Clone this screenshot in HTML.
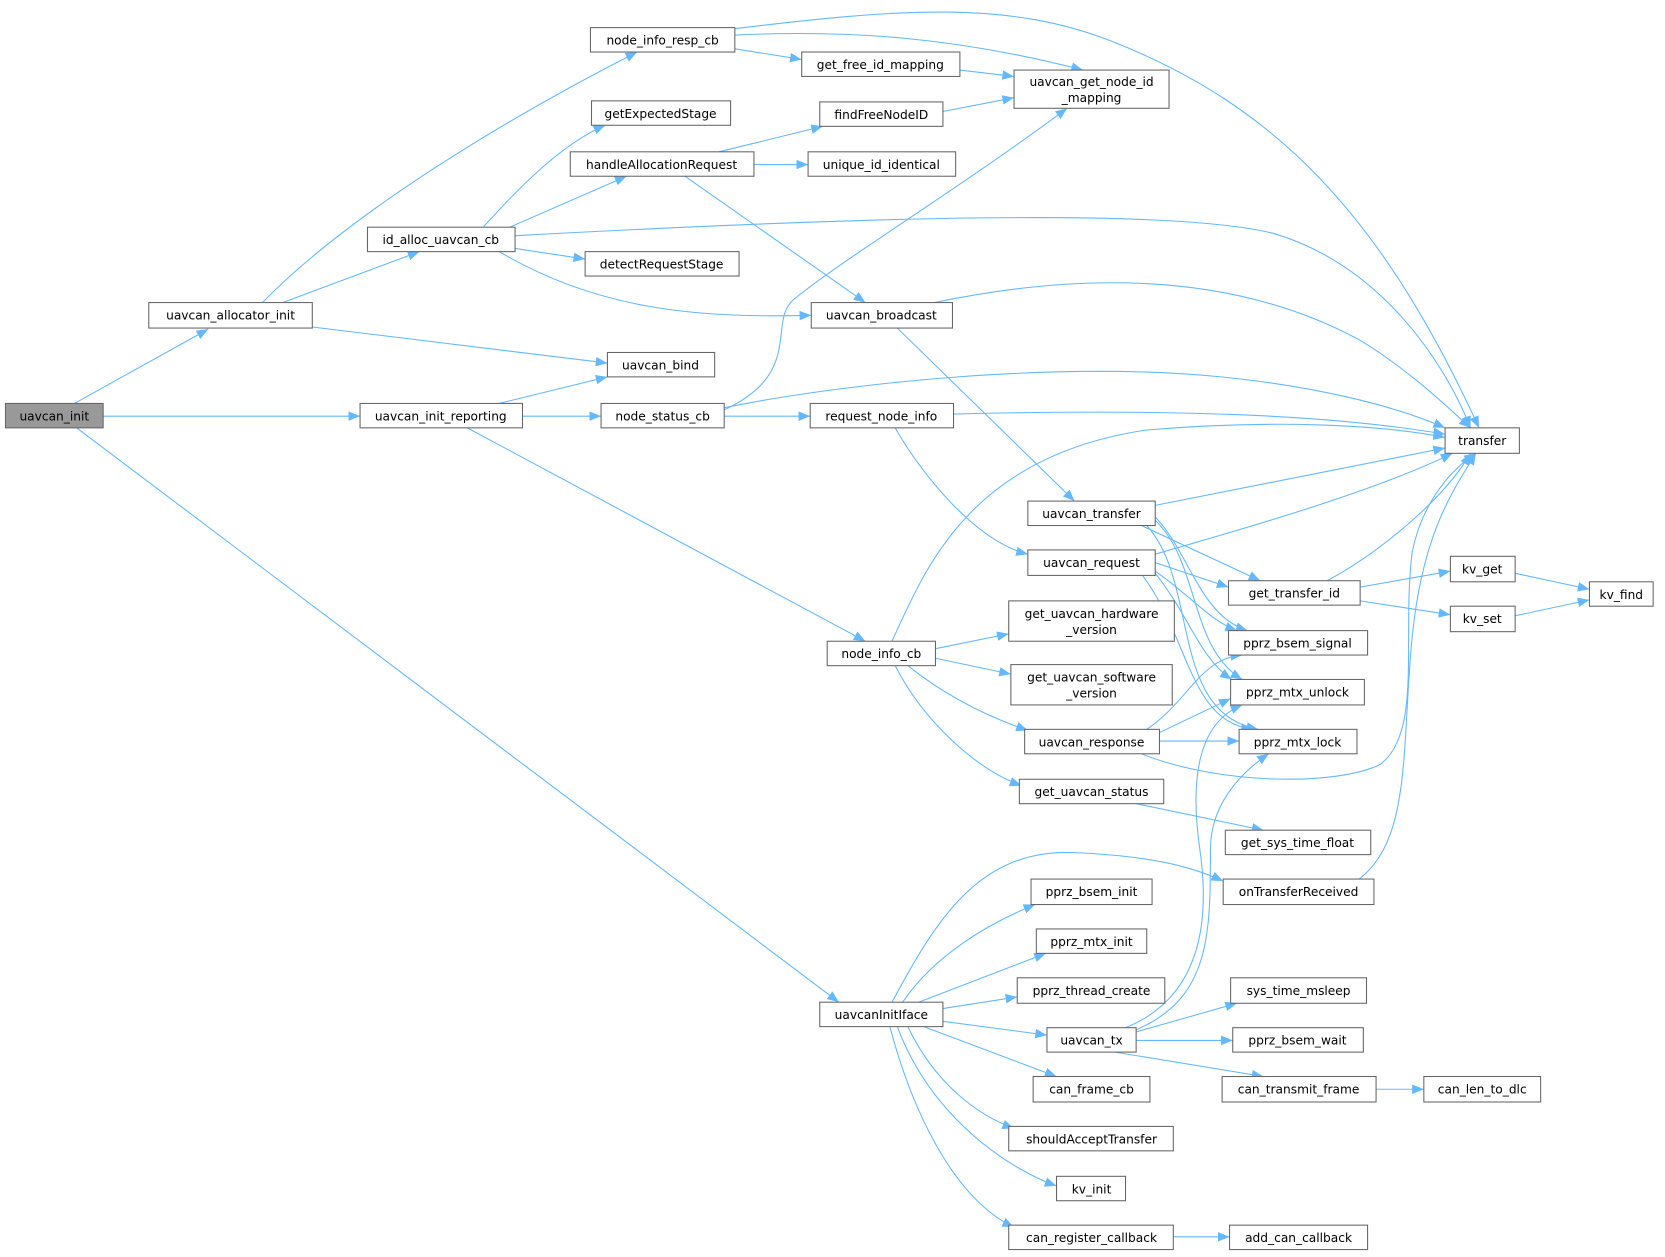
<!DOCTYPE html>
<html><head><meta charset="utf-8"><style>
html,body{margin:0;padding:0;background:#fff;}
svg{display:block;}
text{font-family:"DejaVu Sans","Liberation Sans",sans-serif;font-size:11.5px;fill:#000;}
.n{fill:#fff;stroke:#666;stroke-width:1;}
.e{fill:none;stroke:#63b8ff;stroke-width:1;marker-end:url(#a);}
</style></head><body>
<svg width="1665" height="1257" viewBox="0 0 1568 1184" xmlns="http://www.w3.org/2000/svg">
<defs><marker id="a" markerUnits="userSpaceOnUse" markerWidth="12" markerHeight="10" refX="11" refY="4.5" orient="auto"><path d="M0,0 L11,4.5 L0,9 z" fill="#63b8ff"/></marker></defs>
<g>
<path class="e" d="M70,380 L196,310"/>
<path class="e" d="M97,392 L339,392"/>
<path class="e" d="M72,403 L790,944"/>
<path class="e" d="M247,285 C330,200 480,110 600,49"/>
<path class="e" d="M266,285 L395,237"/>
<path class="e" d="M294,308 L572,342"/>
<path class="e" d="M455,214 C490,175 530,135 570,118"/>
<path class="e" d="M480,214 L590,166"/>
<path class="e" d="M485,222 C800,205 1100,195 1200,220 C1300,250 1360,340 1385,403"/>
<path class="e" d="M485,234 L551,244"/>
<path class="e" d="M470,237 C560,290 650,300 764,297"/>
<path class="e" d="M692,27 C850,8 950,0 1050,40 C1200,100 1300,200 1393,403"/>
<path class="e" d="M692,33 C800,28 900,35 1020,66"/>
<path class="e" d="M692,46 L755,56"/>
<path class="e" d="M904,66 L955,72"/>
<path class="e" d="M888,105 L955,92"/>
<path class="e" d="M677,143 L775,119"/>
<path class="e" d="M710,155 L761,155"/>
<path class="e" d="M645,166 L815,285"/>
<path class="e" d="M880,285 C1000,260 1150,250 1280,320 C1330,350 1370,390 1385,403"/>
<path class="e" d="M845,309 L1012,472"/>
<path class="e" d="M470,380 L572,355"/>
<path class="e" d="M492,392 L566,392"/>
<path class="e" d="M440,403 L815,604"/>
<path class="e" d="M682,386 C760,350 720,300 750,280 C800,240 900,180 1005,102"/>
<path class="e" d="M682,384 C800,360 1000,340 1150,355 C1250,365 1320,385 1361,403"/>
<path class="e" d="M682,392 L763,392"/>
<path class="e" d="M898,390 C1100,385 1250,390 1361,409"/>
<path class="e" d="M843,403 C870,450 920,510 968,522"/>
<path class="e" d="M840,604 C870,540 910,430 1080,405 C1200,395 1300,400 1361,412"/>
<path class="e" d="M881,611 L950,597"/>
<path class="e" d="M881,620 L952,635"/>
<path class="e" d="M855,627 C890,655 930,675 968,688"/>
<path class="e" d="M843,627 C870,680 920,725 962,740"/>
<path class="e" d="M1088,476 L1361,422"/>
<path class="e" d="M1075,495 L1187,547"/>
<path class="e" d="M1088,487 C1120,520 1130,580 1175,594"/>
<path class="e" d="M1088,490 C1130,530 1120,610 1170,640"/>
<path class="e" d="M1080,495 C1130,550 1100,670 1185,687"/>
<path class="e" d="M1088,522 C1200,490 1300,460 1368,427"/>
<path class="e" d="M1088,530 L1157,553"/>
<path class="e" d="M1088,538 C1120,560 1140,585 1165,594"/>
<path class="e" d="M1088,540 C1120,580 1130,620 1160,640"/>
<path class="e" d="M1076,542 C1120,600 1120,680 1180,687"/>
<path class="e" d="M1250,547 C1300,520 1360,470 1385,427"/>
<path class="e" d="M1281,553 L1366,538"/>
<path class="e" d="M1281,566 L1366,579"/>
<path class="e" d="M1427,540 L1497,555"/>
<path class="e" d="M1427,580 L1497,565"/>
<path class="e" d="M1080,687 C1120,660 1130,620 1170,617"/>
<path class="e" d="M1092,690 L1159,658"/>
<path class="e" d="M1092,698 L1167,698"/>
<path class="e" d="M1075,710 C1150,740 1260,740 1300,720 C1340,690 1320,600 1330,520 C1340,470 1370,440 1390,427"/>
<path class="e" d="M1070,757 L1190,782"/>
<path class="e" d="M1280,828 C1330,790 1320,700 1330,600 C1340,500 1370,460 1390,427"/>
<path class="e" d="M840,944 C880,870 920,800 1010,803 C1080,806 1120,815 1152,830"/>
<path class="e" d="M850,944 C880,900 930,870 975,852"/>
<path class="e" d="M865,944 L985,898"/>
<path class="e" d="M888,950 L958,939"/>
<path class="e" d="M888,962 L986,975"/>
<path class="e" d="M870,967 L995,1014"/>
<path class="e" d="M855,967 C880,1020 920,1050 955,1063"/>
<path class="e" d="M845,967 C880,1060 960,1105 995,1117"/>
<path class="e" d="M838,967 C860,1050 900,1130 955,1156"/>
<path class="e" d="M1070,972 L1165,945"/>
<path class="e" d="M1070,980 L1161,980"/>
<path class="e" d="M1050,991 L1190,1014"/>
<path class="e" d="M1060,968 C1130,940 1140,870 1130,800 C1120,730 1130,680 1170,664"/>
<path class="e" d="M1070,970 C1140,940 1140,880 1140,800 C1140,750 1180,720 1195,710"/>
<path class="e" d="M1296,1026 L1341,1026"/>
<path class="e" d="M1105,1165 L1158,1165"/>
</g>
<g text-anchor="middle">
<rect x="5" y="380" width="92" height="23" fill="#999" stroke="#666"/><text x="51" y="396">uavcan_init</text>
<rect class="n" x="140" y="285" width="154" height="24"/><text x="217" y="301">uavcan_allocator_init</text>
<rect class="n" x="339" y="380" width="153" height="23"/><text x="415" y="396">uavcan_init_reporting</text>
<rect class="n" x="772" y="944" width="116" height="23"/><text x="830" y="960">uavcanInitIface</text>
<rect class="n" x="556" y="26" width="136" height="23"/><text x="624" y="42">node_info_resp_cb</text>
<rect class="n" x="557" y="95" width="131" height="23"/><text x="622" y="111">getExpectedStage</text>
<rect class="n" x="537" y="143" width="173" height="23"/><text x="623" y="159">handleAllocationRequest</text>
<rect class="n" x="346" y="214" width="139" height="23"/><text x="415" y="230">id_alloc_uavcan_cb</text>
<rect class="n" x="551" y="237" width="145" height="23"/><text x="623" y="253">detectRequestStage</text>
<rect class="n" x="572" y="332" width="101" height="23"/><text x="622" y="348">uavcan_bind</text>
<rect class="n" x="566" y="380" width="116" height="23"/><text x="624" y="396">node_status_cb</text>
<rect class="n" x="755" y="49" width="149" height="23"/><text x="829" y="65">get_free_id_mapping</text>
<rect class="n" x="955" y="66" width="146" height="36"/><text x="1028" y="81">uavcan_get_node_id</text><text x="1028" y="96">_mapping</text>
<rect class="n" x="772" y="96" width="116" height="23"/><text x="830" y="112">findFreeNodeID</text>
<rect class="n" x="761" y="143" width="139" height="23"/><text x="830" y="159">unique_id_identical</text>
<rect class="n" x="764" y="285" width="133" height="24"/><text x="830" y="301">uavcan_broadcast</text>
<rect class="n" x="763" y="380" width="135" height="23"/><text x="830" y="396">request_node_info</text>
<rect class="n" x="1361" y="403" width="70" height="24"/><text x="1396" y="419">transfer</text>
<rect class="n" x="968" y="472" width="120" height="23"/><text x="1028" y="488">uavcan_transfer</text>
<rect class="n" x="968" y="518" width="120" height="24"/><text x="1028" y="534">uavcan_request</text>
<rect class="n" x="1157" y="547" width="124" height="23"/><text x="1219" y="563">get_transfer_id</text>
<rect class="n" x="1366" y="524" width="61" height="24"/><text x="1396" y="540">kv_get</text>
<rect class="n" x="1497" y="548" width="60" height="23"/><text x="1527" y="564">kv_find</text>
<rect class="n" x="1366" y="571" width="61" height="24"/><text x="1396" y="587">kv_set</text>
<rect class="n" x="1157" y="594" width="131" height="23"/><text x="1222" y="610">pprz_bsem_signal</text>
<rect class="n" x="1159" y="640" width="126" height="24"/><text x="1222" y="656">pprz_mtx_unlock</text>
<rect class="n" x="1167" y="687" width="111" height="23"/><text x="1222" y="703">pprz_mtx_lock</text>
<rect class="n" x="779" y="604" width="102" height="23"/><text x="830" y="620">node_info_cb</text>
<rect class="n" x="950" y="566" width="156" height="38"/><text x="1028" y="582">get_uavcan_hardware</text><text x="1028" y="597">_version</text>
<rect class="n" x="952" y="626" width="152" height="38"/><text x="1028" y="642">get_uavcan_software</text><text x="1028" y="657">_version</text>
<rect class="n" x="965" y="687" width="127" height="23"/><text x="1028" y="703">uavcan_response</text>
<rect class="n" x="960" y="734" width="136" height="23"/><text x="1028" y="750">get_uavcan_status</text>
<rect class="n" x="1154" y="782" width="137" height="23"/><text x="1222" y="798">get_sys_time_float</text>
<rect class="n" x="1152" y="828" width="142" height="24"/><text x="1223" y="844">onTransferReceived</text>
<rect class="n" x="971" y="828" width="114" height="24"/><text x="1028" y="844">pprz_bsem_init</text>
<rect class="n" x="976" y="875" width="104" height="23"/><text x="1028" y="891">pprz_mtx_init</text>
<rect class="n" x="958" y="921" width="139" height="24"/><text x="1028" y="937">pprz_thread_create</text>
<rect class="n" x="1159" y="921" width="128" height="24"/><text x="1223" y="937">sys_time_msleep</text>
<rect class="n" x="986" y="968" width="84" height="23"/><text x="1028" y="984">uavcan_tx</text>
<rect class="n" x="1161" y="968" width="123" height="23"/><text x="1222" y="984">pprz_bsem_wait</text>
<rect class="n" x="973" y="1014" width="110" height="24"/><text x="1028" y="1030">can_frame_cb</text>
<rect class="n" x="1151" y="1014" width="145" height="24"/><text x="1223" y="1030">can_transmit_frame</text>
<rect class="n" x="1341" y="1014" width="110" height="24"/><text x="1396" y="1030">can_len_to_dlc</text>
<rect class="n" x="950" y="1061" width="155" height="23"/><text x="1028" y="1077">shouldAcceptTransfer</text>
<rect class="n" x="995" y="1108" width="65" height="23"/><text x="1028" y="1124">kv_init</text>
<rect class="n" x="950" y="1154" width="155" height="23"/><text x="1028" y="1170">can_register_callback</text>
<rect class="n" x="1158" y="1154" width="130" height="23"/><text x="1223" y="1170">add_can_callback</text>
</g>
</svg>
</body></html>
